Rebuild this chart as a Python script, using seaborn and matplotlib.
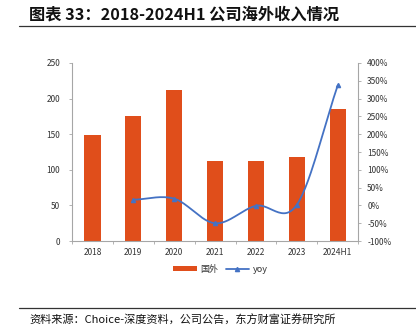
import numpy as np
import pandas as pd
import matplotlib
matplotlib.use("Agg")
import matplotlib.pyplot as plt
import seaborn as sns
from matplotlib.lines import Line2D
from matplotlib.patches import Patch

years = ["2018", "2019", "2020", "2021", "2022", "2023", "2024H1"]
overseas = [149, 176, 212, 112, 113, 118, 186]
yoy_years = ["2019", "2020", "2021", "2022", "2023", "2024H1"]
yoy = [16, 19, -50, -1, 2, 337]

sns.set_theme(style="white")
plt.rcParams['font.family'] = ['Noto Sans CJK SC', 'DejaVu Sans']
plt.rcParams['axes.unicode_minus'] = True

BAR = "#E04E1B"
LINE = "#4472C4"
GRAY = "#A6A6A6"

fig = plt.figure(figsize=(4.16, 3.33), dpi=100)
ax = fig.add_axes([0.173, 0.276, 0.688, 0.535])

df = pd.DataFrame({"year": years, "value": overseas})
sns.barplot(data=df, x="year", y="value", color=BAR, width=0.4, ax=ax,
            saturation=1, edgecolor="none")
ax.set_ylim(0, 250)
ax.set_yticks(range(0, 251, 50))
ax.set_xlim(-0.5, len(years) - 0.5)
ax.set_xlabel("")
ax.set_ylabel("")
for s in ["top", "right"]:
    ax.spines[s].set_visible(False)
for s in ["left", "bottom"]:
    ax.spines[s].set_color(GRAY)
    ax.spines[s].set_linewidth(0.8)
ax.tick_params(axis="y", labelsize=6, colors="#333333", length=2.5, width=0.6,
               direction="out", left=True, pad=6)
ax.tick_params(axis="y", color=GRAY)
ax.tick_params(axis="x", labelsize=6, colors="#333333", length=0, pad=5)
ax.set_xticks(np.arange(-0.5, len(years), 1), minor=True)
ax.tick_params(axis="x", which="minor", length=2.5, width=0.6, color=GRAY, bottom=True)

ax2 = ax.twinx()
ax2.set_ylim(-100, 400)
ax2.set_yticks(range(-100, 401, 50))
ax2.set_yticklabels([f"{v}%" for v in range(-100, 401, 50)])
for s in ["top", "left", "bottom"]:
    ax2.spines[s].set_visible(False)
ax2.spines["right"].set_color(GRAY)
ax2.spines["right"].set_linewidth(0.8)
ax2.tick_params(axis="y", labelsize=6, colors="#333333", length=2.5, width=0.6,
                direction="out", right=True, pad=4)
ax2.tick_params(axis="y", color=GRAY)

# smooth (Catmull-Rom) line through yoy points
xpos = np.array([years.index(y) for y in yoy_years], dtype=float)
ypts = np.array(yoy, dtype=float)
P = np.column_stack([xpos, ypts])
Pext = np.vstack([P[0] - (P[1] - P[0]), P, P[-1] + (P[-1] - P[-2])])
curve = []
tt = np.linspace(0, 1, 30)
for i in range(1, len(Pext) - 2):
    p0, p1, p2, p3 = Pext[i - 1], Pext[i], Pext[i + 1], Pext[i + 2]
    for t in tt:
        pt = 0.5 * ((2 * p1) + (-p0 + p2) * t + (2 * p0 - 5 * p1 + 4 * p2 - p3) * t**2
                    + (-p0 + 3 * p1 - 3 * p2 + p3) * t**3)
        curve.append(pt)
curve = np.array(curve)
ax2.plot(curve[:, 0], curve[:, 1], color=LINE, lw=1.3, zorder=3)
ax2.plot(xpos, ypts, ls="none", marker="^", ms=3, color=LINE, zorder=4)

handles = [Patch(facecolor=BAR, edgecolor="none"),
           Line2D([0], [0], color=LINE, lw=1.3, marker="^", ms=3)]
fig.legend(handles, ["国外", "yoy"], loc="center", bbox_to_anchor=(0.53, 0.192),
           ncol=2, frameon=False, fontsize=6.5, handlelength=2.6, handleheight=0.6,
           columnspacing=0.8, handletextpad=0.4, labelcolor="#333333")

# title, separators and source
fig.text(0.07, 0.955, "图表 33：2018-2024H1 公司海外收入情况", fontsize=11.7,
         fontweight="bold", color="#111111", va="center", ha="left")
fig.add_artist(Line2D([0.045, 1.0], [0.921, 0.921], color="#333333", lw=0.9))
fig.add_artist(Line2D([0.045, 1.0], [0.075, 0.075], color="#333333", lw=0.9))
fig.text(0.07, 0.038, "资料来源：Choice-深度资料，公司公告，东方财富证券研究所", fontsize=8,
         color="#111111", va="center", ha="left")

fig.savefig("out.png", dpi=100)
